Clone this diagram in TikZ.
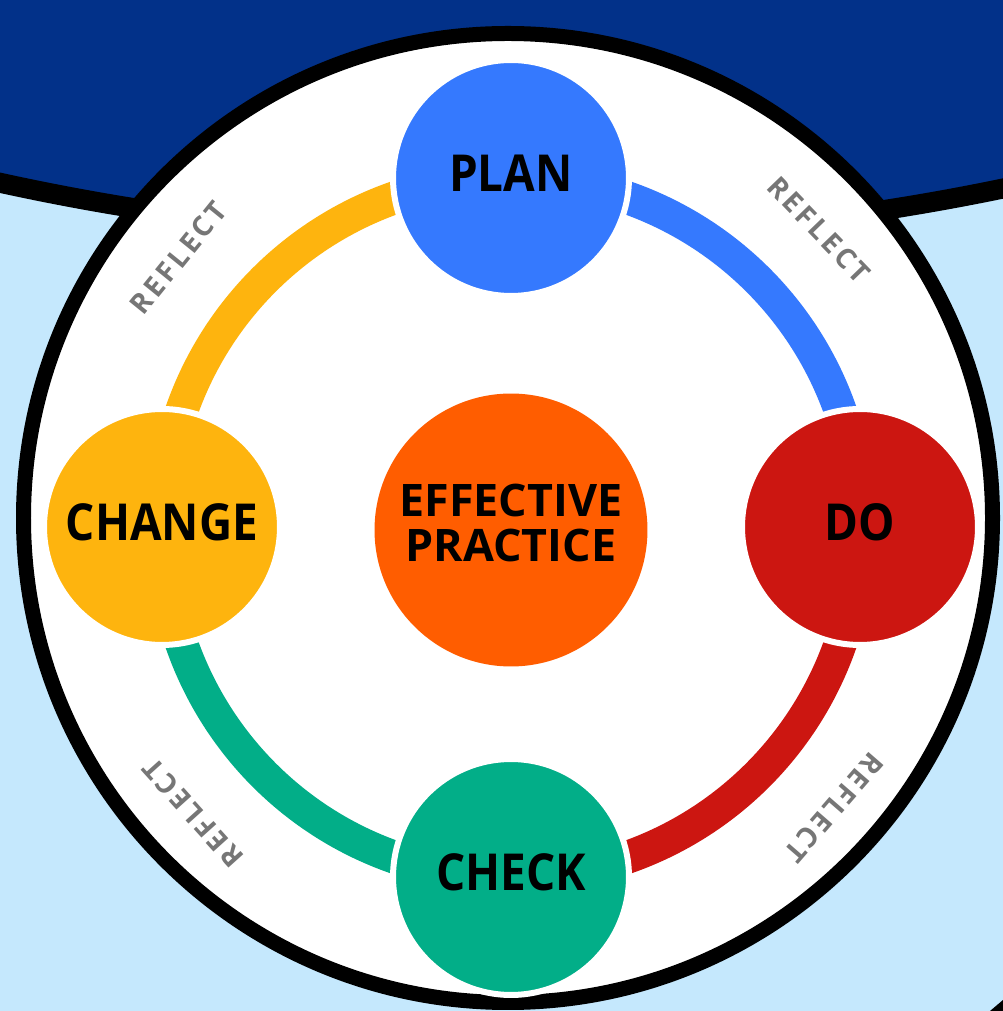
\documentclass[tikz,border=0pt]{standalone}
\usepackage{fontspec}
\setmainfont{Open Sans}
\newfontfamily\stagefont[FakeStretch=0.9]{Open Sans}
\newfontfamily\reflectfont[LetterSpace=11]{Open Sans}
\usetikzlibrary{positioning}
\pgfdeclarelayer{back}
\pgfdeclarelayer{ring}
\pgfsetlayers{back,ring,main}
\definecolor{navy}{RGB}{2,49,137}
\definecolor{sky}{RGB}{197,232,253}
\definecolor{planblue}{RGB}{53,121,254}
\definecolor{dored}{RGB}{204,22,17}
\definecolor{checkgreen}{RGB}{2,174,136}
\definecolor{changeyellow}{RGB}{254,180,14}
\definecolor{coreorange}{RGB}{255,93,0}
\definecolor{reflectgray}{RGB}{118,118,118}

\begin{document}
\begin{tikzpicture}[x=0.02cm,y=0.02cm,
	stage/.style={circle,draw=white,line width=0.12cm,inner sep=0pt,minimum size=4.72cm,
		text depth=0.2cm,font=\stagefont\fontsize{29}{29}\selectfont\bfseries},
	core/.style={circle,fill=coreorange,inner sep=0pt,minimum size=5.46cm,align=center,
		text depth=0.28cm,font=\fontsize{25.5}{25.5}\selectfont\bfseries},
	ringarc/.style={line width=0.66cm},
	reflect/.style={text=reflectgray,inner sep=0pt,font=\reflectfont\fontsize{16}{16}\selectfont\bfseries}]
	\useasboundingbox (0,0) rectangle (1003,1011);
	\clip (0,0) rectangle (1003,1011);
	% backdrop
	\begin{pgfonlayer}{back}
		\fill[sky] (0,0) rectangle (1003,1011);
		\fill[navy,draw=black,line width=0.4cm] (515,3166.5) circle (2393.8);
		\fill (990,0) -- (1003,11) -- (1003,0) -- cycle;
		\draw[fill=white,line width=0.3cm] (508,493) circle (484.5);
	\end{pgfonlayer}
	% center
	\coordinate (hub) at (511,484);
	\node[core] (practice) at (511,481) {EFFECTIVE\\PRACTICE};
	% stages
	\node[stage,fill=planblue] (plan) at (511,833) {PLAN};
	\node[stage,fill=dored] (do) at (860,484) {DO};
	\node[stage,fill=checkgreen] (check) at (511,134) {CHECK};
	\node[stage,fill=changeyellow] (change) at (162,484) {CHANGE};
	% ring
	\begin{pgfonlayer}{ring}
		\draw[ringarc,planblue] (plan.center) to[out=0,in=90] (do.center);
		\draw[ringarc,dored] (do.center) to[out=-90,in=0] (check.center);
		\draw[ringarc,checkgreen] (check.center) to[out=180,in=-90] (change.center);
		\draw[ringarc,changeyellow] (change.center) to[out=90,in=180] (plan.center);
	\end{pgfonlayer}
	% reflect labels
	\foreach \a/\n in {44/ne,141/nw,222/sw,319/se}
		\node[reflect,rotate=\a-90] (reflect-\n) at ([shift={(\a:428)}]hub) {REFLECT};
\end{tikzpicture}
\end{document}
